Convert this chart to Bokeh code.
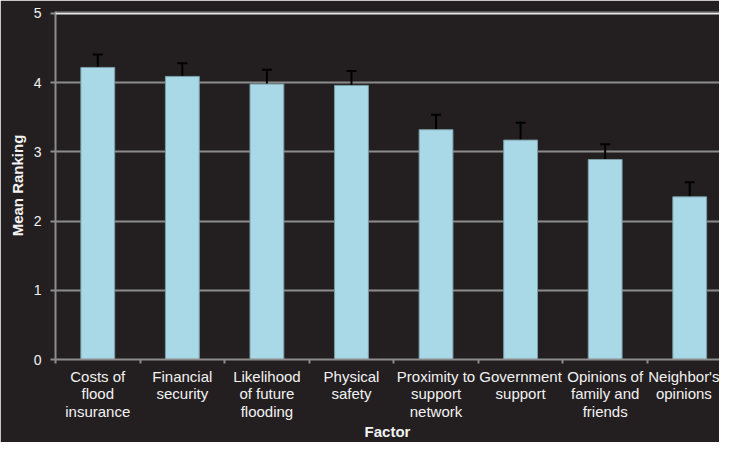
from bokeh.plotting import figure
from bokeh.models import ColumnDataSource, Whisker, TeeHead, FixedTicker, Range1d, Span
from bokeh.embed import file_html
from bokeh.resources import INLINE

factors = ["Costs of\nflood\ninsurance", "Financial\nsecurity", "Likelihood\nof future\nflooding",
           "Physical\nsafety", "Proximity to\nsupport\nnetwork", "Government\nsupport",
           "Opinions of\nfamily and\nfriends", "Neighbor's\nopinions"]
means = [4.22, 4.09, 3.98, 3.96, 3.32, 3.17, 2.89, 2.35]
errs = [0.185, 0.19, 0.205, 0.21, 0.215, 0.25, 0.22, 0.21]
y_ticks = [0, 1, 2, 3, 4, 5]

BG = "#231f20"
GRID = "#8c8c8c"
TXT = "#f2f2f2"

centers = [i + 0.5 for i in range(len(factors))]
bounds = [i for i in range(len(factors) + 1)]
src = ColumnDataSource(dict(
    x=centers, top=means,
    upper=[m + e for m, e in zip(means, errs)],
    lower=[m - e for m, e in zip(means, errs)],
))

p = figure(width=719, height=442, output_backend="svg", toolbar_location=None,
           x_range=Range1d(0, 7.852), y_range=Range1d(0, 5.028),
           min_border_left=55, min_border_right=0, min_border_top=11, min_border_bottom=78)
p.background_fill_color = BG
p.border_fill_color = BG
p.outline_line_color = None

p.vbar(x="x", top="top", width=0.4, bottom=0, source=src,
       fill_color="#a9d9e6", line_color="#7c9ea8", line_width=1)

w = Whisker(source=src, base="x", upper="upper", lower="lower", dimension="height",
            line_color="black", line_width=2,
            upper_head=TeeHead(size=10, line_color="black", line_width=2),
            lower_head=TeeHead(size=10, line_color="black", line_width=2))
p.add_layout(w)

p.add_layout(Span(location=5, dimension="width", line_color="#e8e8e8", line_width=2))

# x axis
p.xaxis.ticker = FixedTicker(ticks=centers, minor_ticks=bounds)
p.xaxis.major_label_overrides = {c: f for c, f in zip(centers, factors)}
p.xaxis.major_tick_out = 0
p.xaxis.major_tick_in = 0
p.xaxis.minor_tick_out = 4
p.xaxis.minor_tick_in = 0
p.xaxis.minor_tick_line_color = GRID
p.xaxis.minor_tick_line_width = 2
p.xaxis.axis_line_color = GRID
p.xaxis.axis_line_width = 2
p.xaxis.major_label_text_font = "Liberation Sans"
p.xaxis.major_label_text_font_size = "15px"
p.xaxis.major_label_text_color = TXT
p.xaxis.major_label_text_line_height = 1.04
p.xaxis.major_label_standoff = 4
p.xaxis.axis_label = "Factor"
p.xaxis.axis_label_text_font = "Liberation Sans"
p.xaxis.axis_label_text_font_size = "15px"
p.xaxis.axis_label_text_font_style = "bold"
p.xaxis.axis_label_text_color = TXT
p.xaxis.axis_label_text_line_height = 1.0
p.xaxis.axis_label_standoff = 0

# y axis
p.yaxis.ticker = FixedTicker(ticks=y_ticks)
p.yaxis.minor_tick_line_color = None
p.yaxis.major_tick_out = 5
p.yaxis.major_tick_in = 0
p.yaxis.major_tick_line_color = GRID
p.yaxis.major_tick_line_width = 2
p.yaxis.axis_line_color = GRID
p.yaxis.axis_line_width = 2
p.yaxis.major_label_text_font = "Liberation Sans"
p.yaxis.major_label_text_font_size = "14px"
p.yaxis.major_label_text_color = TXT
p.yaxis.major_label_standoff = 9
p.yaxis.axis_label = "Mean Ranking"
p.yaxis.axis_label_text_font = "Liberation Sans"
p.yaxis.axis_label_text_font_size = "15px"
p.yaxis.axis_label_text_font_style = "bold"
p.yaxis.axis_label_text_color = TXT
p.yaxis.axis_label_standoff = 5

p.xgrid.grid_line_color = None
p.ygrid.ticker = FixedTicker(ticks=[1, 2, 3, 4])
p.ygrid.grid_line_color = GRID
p.ygrid.grid_line_width = 2

open("out.html", "w").write(file_html(p, INLINE))
